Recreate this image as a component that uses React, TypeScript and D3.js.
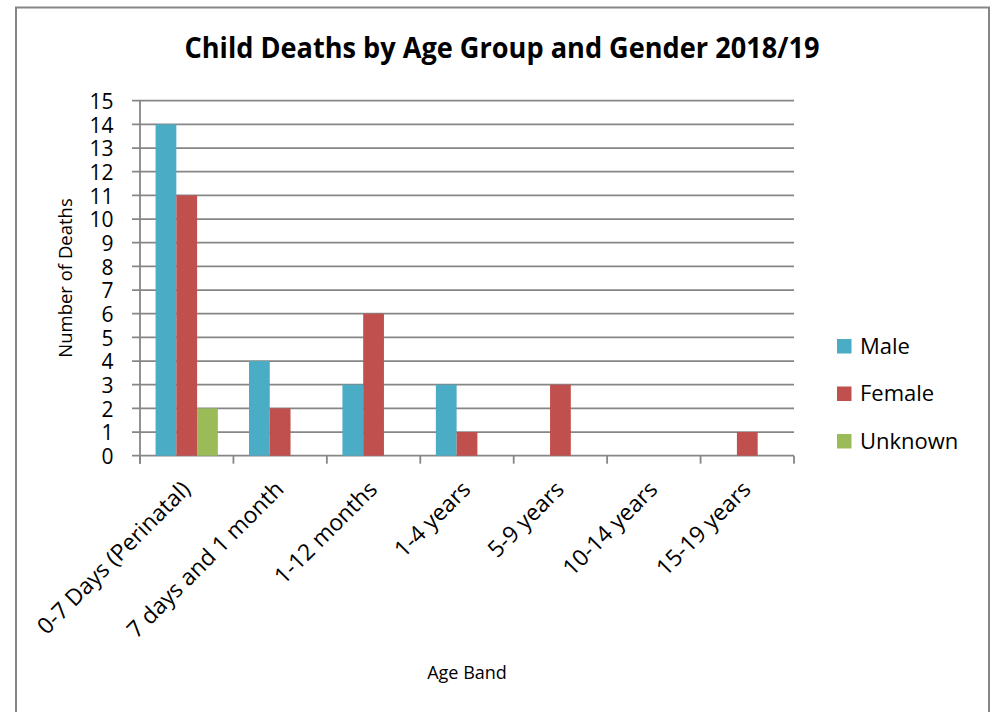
import React from "react";
import * as d3 from "d3";

const categories = [
  "0-7 Days (Perinatal)",
  "7 days and 1 month",
  "1-12 months",
  "1-4 years",
  "5-9 years",
  "10-14 years",
  "15-19 years",
];
const seriesNames = ["Male", "Female", "Unknown"];
const maleValues = [14, 4, 3, 3, 0, 0, 0];
const femaleValues = [11, 2, 6, 1, 3, 0, 1];
const unknownValues = [2, 0, 0, 0, 0, 0, 0];
const yTicks = [0, 1, 2, 3, 4, 5, 6, 7, 8, 9, 10, 11, 12, 13, 14, 15];
const colors = ["#4BACC6", "#C0504D", "#9BBB59"];

const FONT = "'Open Sans', 'Noto Sans', sans-serif";
const GRID = "#868686";

export default function App() {
  const W = 995, H = 712;
  const left = 140, right = 794, top = 100.7, bottom = 455.7;
  const values = [maleValues, femaleValues, unknownValues];

  const x = d3.scaleBand<string>().domain(categories).range([left, right]).paddingInner(0).paddingOuter(0);
  const y = d3.scaleLinear().domain([0, 15]).range([bottom, top]);
  const bw = x.bandwidth();
  const barW = bw / 4.5;
  const x1 = d3.scaleBand<string>().domain(seriesNames).range([barW * 0.75, barW * 3.75]);

  return (
    <div style={{ position: "fixed", left: 0, top: 0, width: W, height: H, background: "#fff" }}>
      <svg width={W} height={H} style={{ display: "block" }} fontFamily={FONT}>
        <rect x={0} y={0} width={W} height={H} fill="#fff" />
        <rect x={16} y={7.5} width={973} height={720} fill="none" stroke={GRID} strokeWidth={2} />
        <text
          x={502}
          y={58}
          textAnchor="middle"
          fontSize={28}
          fontWeight="bold"
          fill="#000"
          textLength={635}
          lengthAdjust="spacingAndGlyphs"
        >
          Child Deaths by Age Group and Gender 2018/19
        </text>
        {/* gridlines */}
        {yTicks.map((t) => (
          <line key={"g" + t} x1={left - 8} x2={right} y1={y(t)} y2={y(t)} stroke={GRID} strokeWidth={1.8} />
        ))}
        {/* y axis */}
        <line x1={left} x2={left} y1={top} y2={bottom + 8} stroke={GRID} strokeWidth={1.8} />
        {/* x ticks */}
        {categories.map((c) => (
          <line key={"t" + c} x1={x(c)!} x2={x(c)!} y1={bottom} y2={bottom + 8} stroke={GRID} strokeWidth={1.8} />
        ))}
        <line x1={right} x2={right} y1={bottom} y2={bottom + 8} stroke={GRID} strokeWidth={1.8} />
        {/* bars */}
        {values.map((vals, si) =>
          vals.map((v, ci) =>
            v > 0 ? (
              <rect
                key={si + "-" + ci}
                x={x(categories[ci])! + x1(seriesNames[si])!}
                y={y(v)}
                width={x1.bandwidth()}
                height={y(0) - y(v)}
                fill={colors[si]}
              />
            ) : null
          )
        )}
        {/* y tick labels */}
        {yTicks.map((t) => (
          <text key={"yl" + t} x={113.5} y={y(t) + 8.3} textAnchor="end" fontSize={21} fill="#000">
            {t}
          </text>
        ))}
        {/* x labels */}
        {categories.map((c) => {
          const cx = x(c)! + bw / 2 + 5;
          const cy = bottom + 35;
          return (
            <text key={"xl" + c} transform={`translate(${cx},${cy}) rotate(-45)`} textAnchor="end" fontSize={22.8} fill="#000">
              {c}
            </text>
          );
        })}
        <text transform={`translate(72,278) rotate(-90)`} textAnchor="middle" fontSize={18.5} fill="#000">
          Number of Deaths
        </text>
        <text x={467} y={679} textAnchor="middle" fontSize={18} fill="#000">
          Age Band
        </text>
        {/* legend */}
        {seriesNames.map((s, i) => (
          <g key={"lg" + s} transform={`translate(837,${346 + i * 47.5})`}>
            <rect x={0} y={-7} width={14.5} height={14.5} fill={colors[i]} />
            <text x={23} y={7.5} fontSize={22} fill="#000">
              {s}
            </text>
          </g>
        ))}
      </svg>
    </div>
  );
}
